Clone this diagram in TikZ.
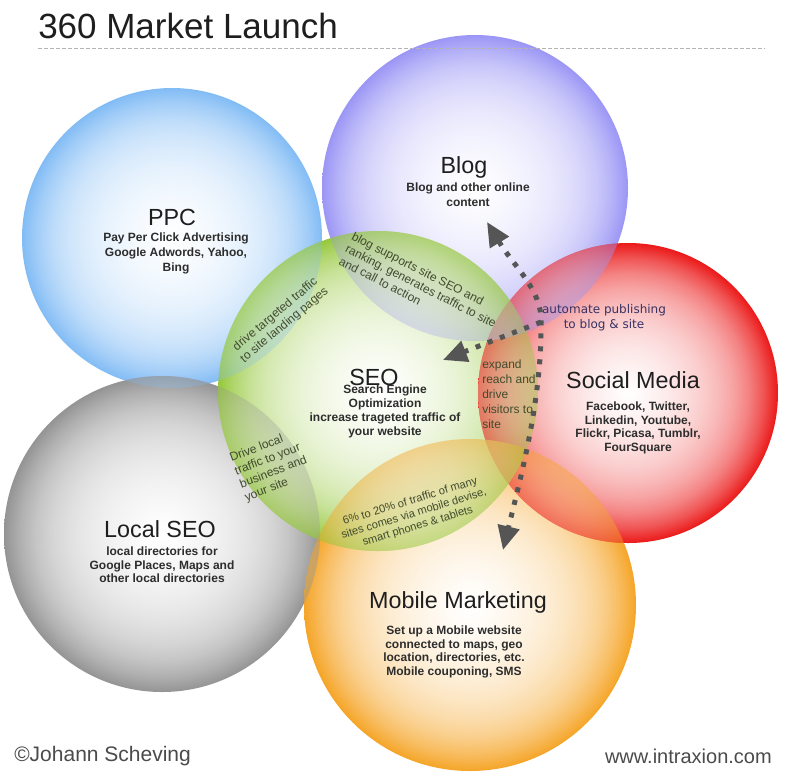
\documentclass[tikz,border=0pt]{standalone}
\usepackage{fontspec}
\setmainfont{Liberation Sans}
\newfontfamily\vfont{DejaVu Sans}
\usetikzlibrary{arrows.meta}
\definecolor{cppc}{RGB}{130,188,245}
\definecolor{cblog}{RGB}{155,150,245}
\definecolor{csoc}{RGB}{235,25,25}
\definecolor{cmob}{RGB}{245,165,40}
\definecolor{cloc}{RGB}{148,148,148}
\definecolor{cseo}{RGB}{150,200,60}
\definecolor{txtdark}{RGB}{30,30,30}
\definecolor{txtsub}{RGB}{45,45,45}
\definecolor{lenstxt}{RGB}{65,75,45}
\definecolor{autotxt}{RGB}{55,50,100}
\definecolor{arrgrey}{RGB}{85,85,85}
\definecolor{hdrgrey}{RGB}{180,180,180}
\newcommand\mkshade[2]{\pgfdeclareradialshading{#1}{\pgfpoint{0bp}{0bp}}{color(0bp)=(white); color(2.5bp)=(#2!3!white); color(5bp)=(#2!7!white); color(7.5bp)=(#2!11!white); color(10bp)=(#2!16!white); color(12.5bp)=(#2!22!white); color(15bp)=(#2!30!white); color(17.5bp)=(#2!40!white); color(20bp)=(#2!54!white); color(22.5bp)=(#2!74!white); color(25bp)=(#2); color(50bp)=(#2)}}
\mkshade{shppc}{cppc}
\mkshade{shblog}{cblog}
\mkshade{shsoc}{csoc}
\mkshade{shmob}{cmob}
\mkshade{shloc}{cloc}
\mkshade{shseo}{cseo}
\def\rPPC{112.5pt}
\def\rBLOG{114.75pt}
\def\rSOC{112.5pt}
\def\rMOB{124.5pt}
\def\rLOC{118.5pt}
\def\rSEO{120pt}
\begin{document}
\begin{tikzpicture}[x=0.75pt,y=-0.75pt,
  ttl/.style={font=\fontsize{17.5}{20}\selectfont, text=txtdark, inner sep=0pt, anchor=base},
  sub/.style={font=\bfseries\fontsize{9}{10.1}\selectfont, text=txtsub, align=center, inner sep=0pt},
  lens/.style={font=\fontsize{9}{10.5}\selectfont, text=lenstxt, inner sep=0pt},
  dots/.style={draw=arrgrey, line width=3.75pt, dash pattern=on 3.75pt off 6pt},
  tip/.style={-{Triangle[length=18pt,width=16pt,fill=arrgrey]}},
  mix/.style={opacity=0.45}, lightmix/.style={opacity=0.3}]
\fill[white] (0,0) rectangle (800,776);
\useasboundingbox (0,0) rectangle (800,776);
% circle centres
\coordinate (cPPC) at (172,238);
\coordinate (cBLOG) at (475,188);
\coordinate (cLOC) at (162,534);
\coordinate (cMOB) at (470,605);
\coordinate (cSEO) at (378,391);
\coordinate (cSOC) at (628,393);
% base discs
\shade[shading=shppc] (cPPC) circle[radius=\rPPC];
\shade[shading=shblog] (cBLOG) circle[radius=\rBLOG];
\shade[shading=shloc] (cLOC) circle[radius=\rLOC];
\shade[shading=shmob] (cMOB) circle[radius=\rMOB];
\shade[shading=shseo] (cSEO) circle[radius=\rSEO];
\shade[shading=shsoc] (cSOC) circle[radius=\rSOC];
% see-through overlaps
\begin{scope}
  \clip (cLOC) circle[radius=\rLOC];
  \shade[shading=shppc, lightmix] (cPPC) circle[radius=\rPPC];
\end{scope}
\begin{scope}
  \clip (cMOB) circle[radius=\rMOB];
  \shade[shading=shloc, mix] (cLOC) circle[radius=\rLOC];
\end{scope}
\begin{scope}
  \clip (cSEO) circle[radius=\rSEO];
  \shade[shading=shppc, lightmix] (cPPC) circle[radius=\rPPC];
  \shade[shading=shblog, lightmix] (cBLOG) circle[radius=\rBLOG];
  \shade[shading=shloc, lightmix] (cLOC) circle[radius=\rLOC];
  \shade[shading=shmob, mix] (cMOB) circle[radius=\rMOB];
\end{scope}
\begin{scope}
  \clip (cSOC) circle[radius=\rSOC];
  \shade[shading=shblog, mix] (cBLOG) circle[radius=\rBLOG];
  \shade[shading=shmob, mix] (cMOB) circle[radius=\rMOB];
  \shade[shading=shseo, mix] (cSEO) circle[radius=\rSEO];
\end{scope}
% header
\node[font=\fontsize{26.25}{30}\selectfont, text=txtdark, anchor=base west, inner sep=0pt] (title) at (38,38) {360 Market Launch};
\coordinate (hl) at (38,48);
\coordinate (hr) at (765,48);
\draw[hdrgrey, line width=0.75pt, dash pattern=on 3pt off 1.5pt] (hl) -- (hr);
% circle titles
\node[ttl] (tPPC) at (172,225) {PPC};
\node[sub, font=\bfseries\fontsize{9}{11.25}\selectfont] (sPPC) at (176,253) {Pay Per Click Advertising\\Google Adwords, Yahoo,\\Bing};
\node[ttl] (tBLOG) at (464,173) {Blog};
\node[sub, font=\bfseries\fontsize{9}{11.25}\selectfont] (sBLOG) at (468,194.5) {Blog and other online\\content};
\node[ttl] (tSOC) at (633,388) {Social Media};
\node[sub] (sSOC) at (638,428) {Facebook, Twitter,\\Linkedin, Youtube,\\Flickr, Picasa, Tumblr,\\FourSquare};
\node[ttl] (tLOC) at (160,537) {Local SEO};
\node[sub] (sLOC) at (162,565) {local directories for\\Google Places, Maps and\\other local directories};
\node[ttl] (tMOB) at (458,608) {Mobile Marketing};
\node[sub] (sMOB) at (454,652) {Set up a Mobile website\\connected to maps, geo\\location, directories, etc.\\Mobile couponing, SMS};
\node[ttl] (tSEO) at (374,385) {SEO};
\node[sub, font=\bfseries\fontsize{9}{10.5}\selectfont] (sSEO) at (385,411) {Search Engine\\Optimization\\increase trageted traffic of\\your website};
% lens texts
\node[lens, align=center, rotate=40] (l1) at (280,320) {drive targeted traffic\\to site landing pages};
\node[lens, align=left, rotate=-27] (l2) at (421,286) {blog supports site SEO and\\ranking, generates traffic to site\\and call to action};
\node[lens, align=left, anchor=north west, font=\fontsize{9}{11.25}\selectfont] (l3) at (482,360) {expand\\reach and\\drive\\visitors to\\site};
\node[lens, align=left, rotate=21] (l4) at (271,466) {Drive local\\traffic to your\\business and\\your site};
\node[lens, align=center, rotate=17, font=\fontsize{8.4}{9.75}\selectfont] (l5) at (414,514) {6\% to 20\% of traffic of many\\sites comes via mobile devise,\\smart phones \& tablets};
\node[inner sep=0pt, align=center, text=autotxt, font=\vfont\fontsize{9}{11.25}\selectfont] (auto) at (604,318) {automate publishing\\to blog \& site};
% dotted arrows
\coordinate (tipB) at (487,222);
\coordinate (jn) at (541,322);
\coordinate (tipS) at (443,360);
\coordinate (tipM) at (503,550);
\draw[dots, {Triangle[length=18pt,width=16pt,fill=arrgrey]}-{Triangle[length=18pt,width=16pt,fill=arrgrey]}] (tipB) .. controls (515,268) and (542,290) .. (jn) .. controls (542,400) and (520,480) .. (tipM);
\draw[dots, tip] (jn) -- (tipS);
% footer
\node[font=\fontsize{15.75}{18}\selectfont, text=txtdark!80, anchor=base west, inner sep=0pt] (copy) at (14,761) {©Johann Scheving};
\node[font=\fontsize{15}{18}\selectfont, text=txtdark!80, anchor=base east, inner sep=0pt] (web) at (772,763) {www.intraxion.com};
\end{tikzpicture}
\end{document}
